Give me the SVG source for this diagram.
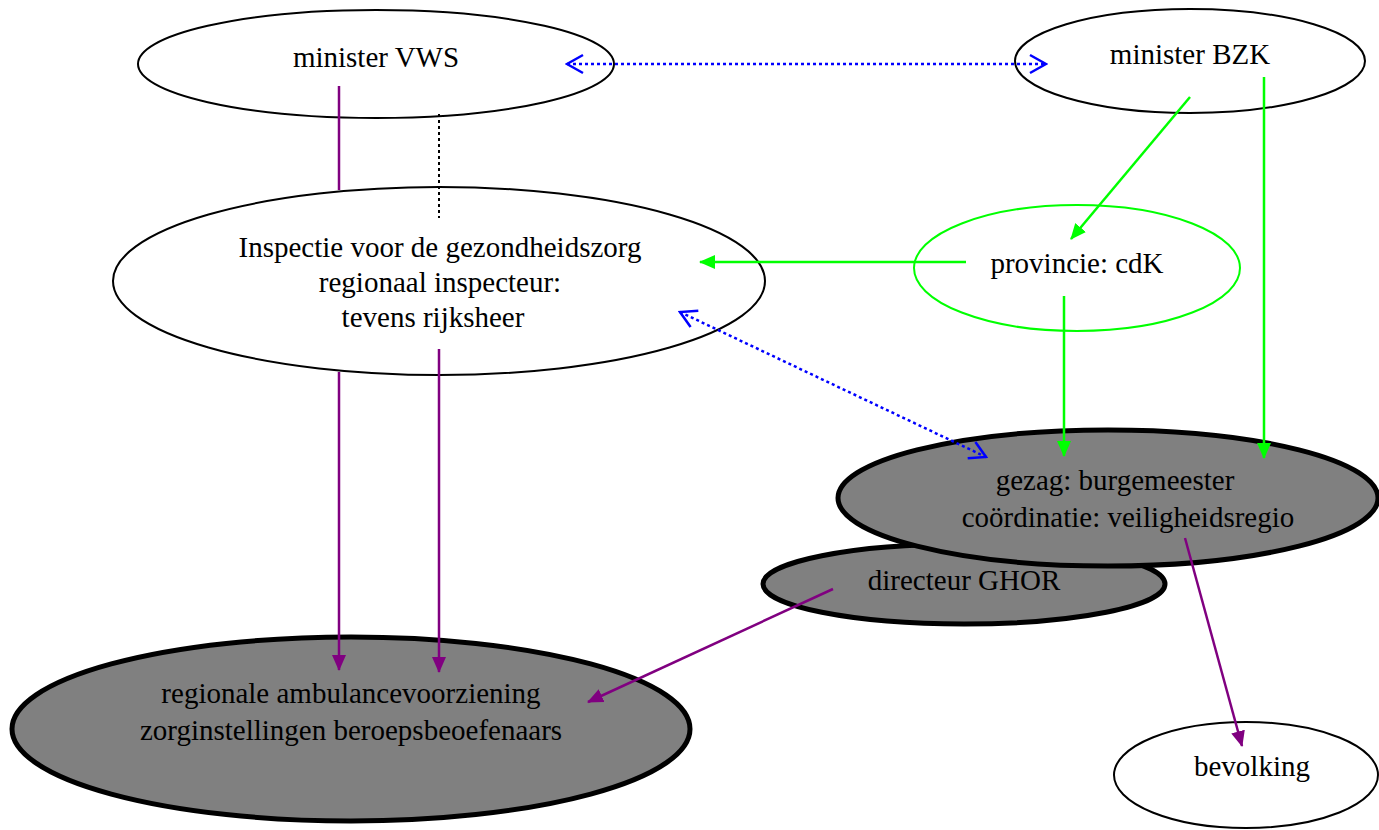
<svg xmlns="http://www.w3.org/2000/svg" width="1379" height="830" viewBox="0 0 1379 830">
<style>
text{font-family:"Liberation Serif","Times New Roman",serif;font-size:29px;fill:#000;text-anchor:middle}
.thin{fill:#fff;stroke:#000;stroke-width:2}
.thick{fill:#808080;stroke:#000;stroke-width:5}
.green{fill:#fff;stroke:#00ff00;stroke-width:2}
.p{stroke:#800080;stroke-width:2.5;fill:none}
.g{stroke:#00ff00;stroke-width:2.5;fill:none}
.b{stroke:#0000ff;stroke-width:2.5;fill:none;stroke-dasharray:3 3}
.k{stroke:#000;stroke-width:2;fill:none;stroke-dasharray:3 3}
</style>
<defs>
<marker id="ap" markerUnits="userSpaceOnUse" markerWidth="16" markerHeight="16" viewBox="0 0 16 16" refX="15" refY="8" orient="auto"><path d="M0,1 L16,8 L0,15 Z" fill="#800080"/></marker>
<marker id="ag" markerUnits="userSpaceOnUse" markerWidth="16" markerHeight="16" viewBox="0 0 16 16" refX="15" refY="8" orient="auto"><path d="M0,1 L16,8 L0,15 Z" fill="#00ff00"/></marker>
<marker id="ab" markerUnits="userSpaceOnUse" markerWidth="20" markerHeight="22" viewBox="0 0 20 22" refX="18" refY="11" orient="auto-start-reverse"><path d="M2,2 L18,11 L2,20" fill="none" stroke="#0000ff" stroke-width="2.5"/></marker>
</defs>
<g id="node-vws"><ellipse class="thin" cx="376" cy="64" rx="238" ry="54"/><text x="376" y="67">minister VWS</text></g>
<g id="node-bzk"><ellipse class="thin" cx="1190" cy="61" rx="175" ry="52"/><text x="1190" y="64">minister BZK</text></g>
<g id="node-inspectie"><ellipse class="thin" cx="439" cy="281" rx="326" ry="94"/><text x="440" y="257">Inspectie voor de gezondheidszorg</text><text x="440" y="292">regionaal inspecteur:</text><text x="433" y="327">tevens rijksheer</text></g>
<g id="node-provincie"><ellipse class="green" cx="1077" cy="268" rx="163" ry="63"/><text x="1077" y="273">provincie: cdK</text></g>
<g id="node-ghor"><ellipse class="thick" cx="964" cy="584" rx="201" ry="40"/><text x="964" y="590">directeur GHOR</text></g>
<g id="node-gezag"><ellipse class="thick" cx="1108" cy="498" rx="270" ry="68"/><text x="1115" y="490">gezag: burgemeester</text><text x="1128" y="527">coördinatie: veiligheidsregio</text></g>
<g id="node-regionale"><ellipse class="thick" cx="351" cy="729" rx="339" ry="92"/><text x="351" y="703">regionale ambulancevoorziening</text><text x="351" y="740">zorginstellingen beroepsbeoefenaars</text></g>
<g id="node-bevolking"><ellipse class="thin" cx="1246" cy="775" rx="132" ry="53"/><text x="1252" y="776">bevolking</text></g>
<g id="connectors">
<line class="b" x1="567" y1="64" x2="1046" y2="64" marker-start="url(#ab)" marker-end="url(#ab)"/>
<line class="b" x1="680" y1="312" x2="986" y2="457" marker-start="url(#ab)" marker-end="url(#ab)"/>
<line class="p" x1="339" y1="86" x2="339" y2="190"/>
<line class="k" x1="439" y1="114" x2="439" y2="218"/>
<line class="p" x1="339" y1="372" x2="339" y2="670" marker-end="url(#ap)"/>
<line class="p" x1="439" y1="349" x2="439" y2="672" marker-end="url(#ap)"/>
<line class="p" x1="833" y1="589" x2="588" y2="702" marker-end="url(#ap)"/>
<line class="p" x1="1185" y1="538" x2="1242" y2="746" marker-end="url(#ap)"/>
<line class="g" x1="1190" y1="97" x2="1071" y2="239" marker-end="url(#ag)"/>
<line class="g" x1="966" y1="262" x2="700" y2="262" marker-end="url(#ag)"/>
<line class="g" x1="1064" y1="296" x2="1064" y2="456" marker-end="url(#ag)"/>
<line class="g" x1="1264" y1="77" x2="1264" y2="458" marker-end="url(#ag)"/>
</g>
</svg>
